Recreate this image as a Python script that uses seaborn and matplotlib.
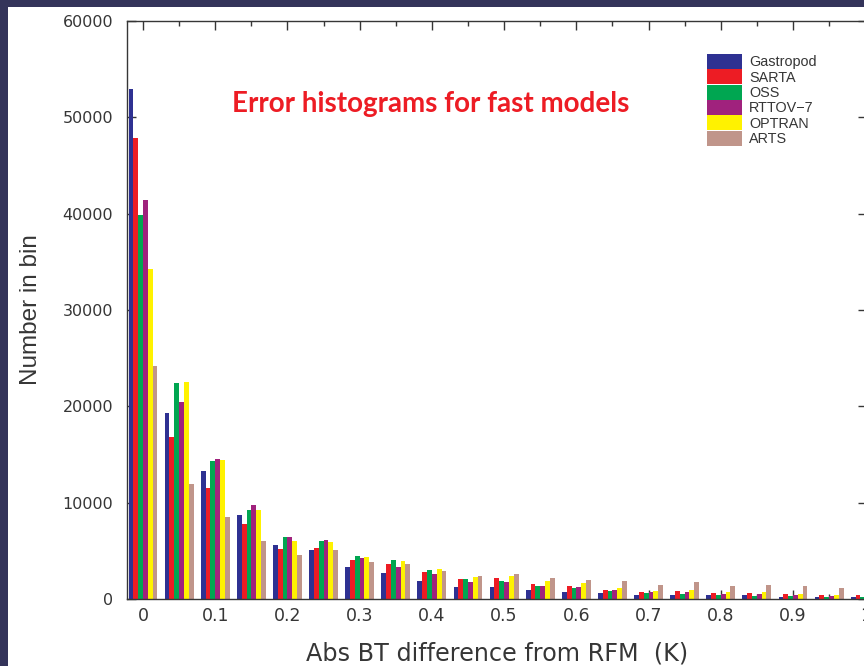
import pandas as pd
import matplotlib
matplotlib.use("Agg")
import matplotlib.pyplot as plt
import seaborn as sns
from matplotlib.patches import Patch, Rectangle
from matplotlib.ticker import MultipleLocator

# Bin centres (K) and counts per fast model
bins = [0.0, 0.05, 0.1, 0.15, 0.2, 0.25, 0.3, 0.35, 0.4, 0.45, 0.5,
        0.55, 0.6, 0.65, 0.7, 0.75, 0.8, 0.85, 0.9, 0.95, 1.0]
models = ["Gastropod", "SARTA", "OSS", "RTTOV\u22127", "OPTRAN", "ARTS"]
gastropod = [52900, 19270, 13320, 8750, 5570, 5090, 3360, 2700, 1900, 1250, 1250,
             900, 730, 620, 415, 415, 415, 380, 210, 210, 210]
sarta = [47880, 16850, 11520, 7785, 5160, 5260, 4050, 3630, 2800, 2040, 2150,
         1590, 1350, 930, 730, 830, 620, 620, 490, 415, 415]
oss = [39860, 22390, 14360, 9240, 6470, 6020, 4460, 4050, 3010, 2040, 1900,
       1320, 1110, 830, 620, 490, 415, 345, 280, 210, 210]
rttov = [41380, 20420, 14500, 9760, 6470, 6120, 4260, 3360, 2560, 1760, 1730,
         1320, 1210, 930, 730, 730, 520, 520, 415, 310, 300]
optran = [34250, 22520, 14430, 9240, 5990, 5920, 4330, 3940, 3080, 2250, 2390,
          1830, 1630, 1170, 860, 900, 730, 760, 520, 415, 400]
arts = [24190, 11940, 8510, 6020, 4570, 5090, 3840, 3600, 2870, 2350, 2560,
        2180, 1970, 1870, 1450, 1760, 1380, 1450, 1320, 1110, 1000]
colors = ["#2e3192", "#ed1c24", "#00a651", "#a0227d", "#fff200", "#c0958a"]

xticks = [0.0, 0.1, 0.2, 0.3, 0.4, 0.5, 0.6, 0.7, 0.8, 0.9, 1.0]
xticklabels = ["0", "0.1", "0.2", "0.3", "0.4", "0.5", "0.6", "0.7", "0.8", "0.9", "1"]
yticks = [0, 10000, 20000, 30000, 40000, 50000, 60000]

# long-form table for seaborn
series = [gastropod, sarta, oss, rttov, optran, arts]
rows = []
for name, vals in zip(models, series):
    for b, v in zip(bins, vals):
        rows.append({"bin": b, "count": v, "model": name})
df = pd.DataFrame(rows)

sns.set_style("ticks")
plt.rcParams["font.family"] = ["DejaVu Sans"]
text_col = "#363636"
bg_col = "#34345a"

W, H = 864, 666
fig = plt.figure(figsize=(W / 100, H / 100), dpi=100, facecolor=bg_col)
# white page inside the dark frame
fig.add_artist(Rectangle((8 / W, 0), 1, 1 - 7 / H, transform=fig.transFigure,
                         facecolor="white", edgecolor="none", zorder=0))

# axes box in pixels: x 127..867, y 21..599 (right edge runs past the picture)
ax = fig.add_axes([127 / W, 1 - 599 / H, 740 / W, 578 / H])
ax.set_facecolor("white")

palette = dict(zip(models, colors))
sns.barplot(data=df, x="bin", y="count", hue="model", hue_order=models,
            palette=palette, native_scale=True, saturation=1, errorbar=None,
            linewidth=0, width=0.8, legend=False, ax=ax)

ax.set_xlim(-0.02215, 1.0025)
ax.set_ylim(0, 60000)
ax.set_xticks(xticks)
ax.set_xticklabels(xticklabels)
ax.xaxis.set_minor_locator(MultipleLocator(0.05))
ax.set_yticks(yticks)
ax.set_axisbelow(True)

for s in ax.spines.values():
    s.set_color(text_col)
    s.set_linewidth(1.0)
ax.tick_params(which="both", direction="in", top=True, right=True,
               color=text_col, width=1.0, labelcolor=text_col)
ax.tick_params(which="major", length=6.5)
ax.tick_params(which="minor", length=3.6)
ax.tick_params(axis="x", which="major", labelsize=12.5, pad=5.5)
ax.tick_params(axis="y", which="major", labelsize=11.5, pad=10)

ax.set_xlabel("Abs BT difference from RFM  (K)", fontsize=17.2, color=text_col)
ax.xaxis.set_label_coords(0.5, (599 - 641) / 578)
ax.set_ylabel("Number in bin", fontsize=17.5, color=text_col,
              family=["Liberation Sans", "DejaVu Sans"])
ax.yaxis.set_label_coords((42 - 127) / 740, 0.5)

fig.text(430.5 / W, 1 - 112 / H, "Error histograms for fast models",
         ha="center", va="baseline", fontsize=20, fontweight="bold",
         color="#ed1c24", family=["Lato", "DejaVu Sans"])

handles = [Patch(facecolor=c, edgecolor="none", label=m) for m, c in zip(models, colors)]
leg = fig.legend(handles=handles, loc="upper left",
                 bbox_to_anchor=(707 / W, 1 - 54 / H), bbox_transform=fig.transFigure,
                 frameon=False, borderpad=0, borderaxespad=0, labelspacing=0,
                 handlelength=2.43, handleheight=1.215, handletextpad=0.49,
                 prop={"family": ["Liberation Sans", "DejaVu Sans"], "size": 10.4})
for t in leg.get_texts():
    t.set_color(text_col)

fig.savefig("out.png", dpi=100, facecolor=bg_col)
